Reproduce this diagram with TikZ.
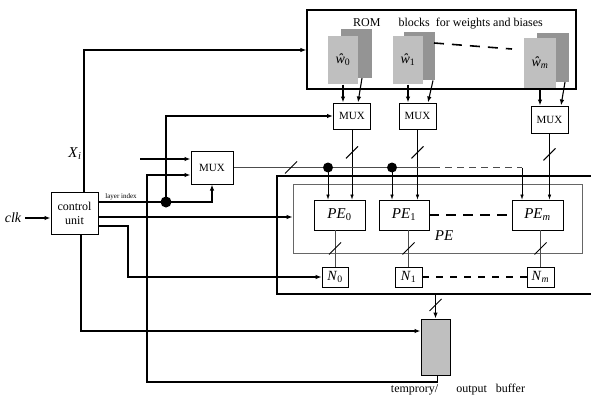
\documentclass[tikz,border=0pt]{standalone}
\usepackage{fontspec}
\setmainfont{Liberation Serif}
\usetikzlibrary{arrows.meta,calc}
\begin{document}
\begin{tikzpicture}[x=1pt,y=-1pt,
  line width=1.1pt,
  arr/.style={-{Latex[length=6pt,width=4.5pt]}},
  tarr/.style={line width=0.6pt,-{Latex[length=5pt,width=3.5pt]}},
  box/.style={draw,line width=1pt,inner sep=0pt,align=center},
  romf/.style={fill=black!25,inner sep=0pt,minimum width=30pt,minimum height=48pt},
  romb/.style={fill=black!42,inner sep=0pt,minimum width=31pt,minimum height=48pt},
  glin/.style={line width=0.6pt,black!70},
  slashl/.style={line width=1pt},
  dotn/.style={circle,fill,inner sep=0pt,minimum size=10pt},
  mux/.style={box,font=\fontsize{11}{12}\selectfont,minimum width=37pt,minimum height=26pt},
  pe/.style={box,line width=0.8pt,font=\fontsize{15}{16}\selectfont,minimum width=51pt,minimum height=30pt},
  nb/.style={box,line width=0.8pt,font=\fontsize{14}{15}\selectfont,minimum width=27pt,minimum height=20pt},
]
\useasboundingbox (0,0) rectangle (591,396);

% ROM block
\node[box,line width=1.3pt,minimum width=269pt,minimum height=79pt] (rom) at (441.5,49.5) {};
\node[font=\fontsize{12}{13}\selectfont] (romt) at (448,24) {ROM\quad\ \ blocks\ \ for weights and biases};
\node[romb] (w0b) at (356,53.5) {};
\node[romf,font=\fontsize{14}{15}\selectfont] (w0f) at (343,60) {\textit{ŵ}\textsubscript{0}};
\node[romb] (w1b) at (419,56) {};
\node[romf,font=\fontsize{14}{15}\selectfont] (w1f) at (408,60) {\textit{ŵ}\textsubscript{1}};
\node[romb,minimum width=32pt] (wmb) at (553,57.5) {};
\node[romf,minimum width=32pt,minimum height=50pt,font=\fontsize{14}{15}\selectfont] (wmf) at (540,63) {\textit{ŵ}\textsubscript{\textit{m}}};
\coordinate (rd1) at (434,43);
\coordinate (rd2) at (512,49);
\draw[line width=1.6pt,dash pattern=on 10pt off 8pt] (rd1) -- (rd2);

% MUXes
\node[mux] (mux0) at (352,116) {MUX};
\node[mux] (mux1) at (417.5,116) {MUX};
\node[mux,minimum height=27pt] (muxm) at (549.5,119.5) {MUX};
\node[mux,minimum width=42pt,minimum height=33pt] (mux) at (212,167.5) {MUX};

% ROM -> MUX
\draw[arr] (w0f.south) -- (w0f.south |- mux0.north);
\draw[arr] ([xshift=6pt]w0b.south) -- ([xshift=6pt]mux0.north);
\draw[arr] (w1f.south) -- (w1f.south |- mux1.north);
\draw[arr] ([xshift=14pt]w1b.south) -- ([xshift=10.5pt]mux1.north);
\draw[arr] (wmf.south) -- (wmf.south |- muxm.north);
\draw[arr] ([xshift=12pt]wmb.south) -- ([xshift=11.5pt]muxm.north);

% PE region
\node[box,line width=1.3pt,minimum width=330pt,minimum height=118pt] (outer) at (442,235) {};
\node[box,draw=black!60,line width=0.8pt,minimum width=289pt,minimum height=69pt] (inner) at (437.5,218.5) {};
\node[pe] (PE0) at (339.5,215) {\textit{PE}\textsubscript{0}};
\node[pe,minimum width=50pt] (PE1) at (404,215) {\textit{PE}\textsubscript{1}};
\node[pe] (PEm) at (537.5,215) {\textit{PE}\textsubscript{\textit{m}}};
\node[font=\fontsize{15}{16}\selectfont\itshape] (pel) at (444,236) {PE};
\draw[line width=1.6pt,dash pattern=on 10pt off 7pt] (PE1.east) -- (PEm.west);

\node[nb,minimum width=26pt] (N0) at (335,277) {\textit{N}\textsubscript{0}};
\node[nb] (N1) at (408.5,277) {\textit{N}\textsubscript{1}};
\node[nb] (Nm) at (540.5,277) {\textit{N}\textsubscript{\textit{m}}};
\draw[line width=1.1pt,dash pattern=on 7pt off 7pt] (N1.east) -- (Nm.west);

\foreach \p/\n in {PE0/N0,PE1/N1,PEm/Nm}{
  \draw[glin] (\n.north |- \p.south) -- (\n.north);
  \coordinate (s) at ($(\n.north |- \p.south)!0.5!(\n.north)$);
  \draw[slashl] ([shift={(-6,6)}]s) -- ([shift={(6,-6)}]s);
}

% MUX -> PE
\foreach \m/\p in {mux0/PE0,mux1/PE1,muxm/PEm}{
  \draw[tarr] (\m.south) -- (\m.south |- \p.north);
  \coordinate (s) at ($(\m.south)!0.5!(\m.south |- outer.north)$);
  \draw[slashl] ([shift={(-6,6)}]s) -- ([shift={(6,-6)}]s);
}

% small MUX output bus
\coordinate (d0) at (328,167.5);
\coordinate (d1) at (392,167.5);
\coordinate (dend) at (433,167.5);
\coordinate (dm) at (522,167.5);
\draw[glin] (mux.east) -- (dend);
\draw[glin,dash pattern=on 7pt off 5pt] (dend) -- (dm);
\draw[tarr] (dm) -- (dm |- PEm.north);
\draw[tarr] (d0) -- (d0 |- PE0.north);
\draw[tarr] (d1) -- (d1 |- PE1.north);
\node[dotn] (dot0) at (d0) {};
\node[dotn] (dot1) at (d1) {};
\coordinate (s) at (291,167.5);
\draw[slashl] ([shift={(-6,6)}]s) -- ([shift={(6,-6)}]s);

% buffer
\node[box,fill=black!25,minimum width=29pt,minimum height=56pt] (buf) at (435.5,347) {};
\node[font=\fontsize{12}{13}\selectfont] (bufl) at (458,390) {temprory/\quad\ \ output\ \ \ buffer};
\draw[arr] (buf.north |- outer.south) -- (buf.north);
\coordinate (s) at (435.5,305);
\draw[slashl] ([shift={(-6,6)}]s) -- ([shift={(6,-6)}]s);

% control unit
\node[box,minimum width=47pt,minimum height=42pt,font=\fontsize{12}{14}\selectfont] (cu) at (74.5,213) {control\\unit};
\node[font=\fontsize{14}{15}\selectfont\itshape] (clk) at (13,218) {clk};
\draw[arr] (clk.east |- 0,218) -- (cu.west |- 0,218);

\coordinate (t1) at (84,50);
\draw[arr] (cu.north -| t1) -- (t1) -- (t1 -| rom.west);

\coordinate (li) at (166,202);
\node[font=\fontsize{7}{8}\selectfont] (lil) at (121,197) {layer index};
\draw[arr] (cu.east |- li) -| (mux.south);
\draw[arr] (li) |- (mux0.west);
\node[dotn,minimum size=11pt] (lidot) at (li) {};

\coordinate (c2) at (98,217);
\draw[arr] (cu.east |- c2) -- (inner.west |- c2);

\coordinate (c3) at (128,226);
\draw[arr] (cu.east |- c3) -- (c3) |- (N0.west);

\coordinate (c4) at (81,331);
\draw[arr] (cu.south -| c4) -- (c4) -- (c4 -| buf.west);

\coordinate (c5) at (147,382);
\coordinate (c6) at (147,175);
\draw[arr] ([xshift=2pt]buf.south) |- (c5) -- (c6) -- (c6 -| mux.west);

\node[font=\fontsize{15}{16}\selectfont] (xi) at (75,154) {\textit{X}\textsubscript{\textit{i}}};
\coordinate (xs) at (140,159);
\draw[arr] (xs) -- (xs -| mux.west);
\end{tikzpicture}
\end{document}
